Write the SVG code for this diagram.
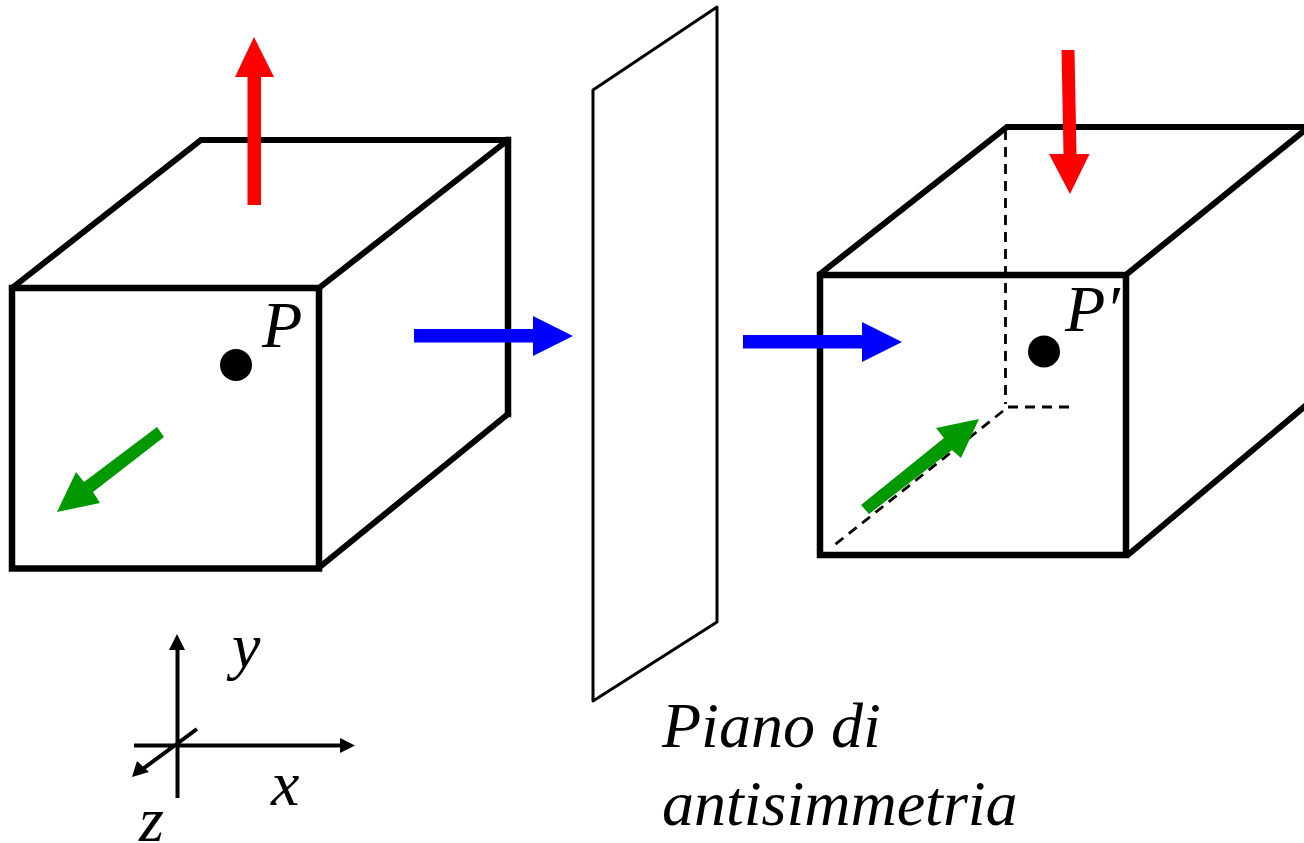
<svg xmlns="http://www.w3.org/2000/svg" width="1304" height="843" viewBox="0 0 1304 843">
<style>
.k{fill:none;stroke:#000;stroke-width:6;stroke-linecap:round;stroke-linejoin:miter}
.f{fill:none;stroke:#000;stroke-width:6.5;stroke-linecap:square}
.p{fill:none;stroke:#000;stroke-width:3;stroke-linejoin:round}
.d{fill:none;stroke:#000;stroke-width:2.8;stroke-dasharray:10 7}
.a{fill:none;stroke:#000;stroke-width:4}
.t{font-family:"Liberation Serif",serif;font-style:italic;fill:#000}
</style>
<rect width="1304" height="843" fill="#fff"/>
<g id="cube-left">
<path class="k" d="M12 288L201 140H508M319 288L508 140M508 414L321 566"/>
<path class="f" d="M12 288H319V568.500H12ZM508 140V414"/>
<circle cx="236" cy="365" r="16"/>
<text class="t" x="262" y="346.500" font-size="66">P</text>
</g>
<g id="plane">
<path class="p" d="M593 90L717 7V622L593 701Z"/>
</g>
<g id="cube-right">
<path class="k" d="M820 274L1007 127H1304M1127 274L1310 126M1129 554L1310 402"/>
<path class="f" d="M820 275H1126V555H820Z"/>
<path class="d" d="M1005.500 130V404M1008 407H1069M1003 411L832 547"/>
<circle cx="1044" cy="351.500" r="16"/>
<text class="t" x="1065" y="331" font-size="66">P′</text>
</g>
<g id="connectors">
<path fill="#f00" d="M247.500 205V77H235L254 37L274 77H261V205Z"/>
<path fill="#f00" d="M1061.500 50H1074.500L1076.500 154H1089.500L1070 194L1049 154H1063.500Z"/>
<path fill="#00f" d="M414 329H533V316L573 336L533 356V342.500H414Z"/>
<path fill="#00f" d="M743 335H862V322L902 342L862 362V348.500H743Z"/>
<path fill="#090" d="M157 427L164 437L93 492L100 503L57 512L76 472L84 482Z"/>
<path fill="#090" d="M861 505L869 514L952 450L961 458L979 419L936 428L944 438Z"/>
<path class="a" d="M177.500 798V646M134 745.500H344M197 729L140 771"/>
<path d="M177 634L185 650H169Z"/>
<path d="M355 745.500L340 738V753Z"/>
<path d="M132 777L149 772L137 761Z"/>
</g>
<g id="labels">
<text class="t" x="232" y="667" font-size="64">y</text>
<text class="t" x="271" y="805" font-size="64">x</text>
<text class="t" x="139" y="841" font-size="64">z</text>
<text class="t" x="662" y="747" font-size="64">Piano di</text>
<text class="t" x="662" y="825" font-size="64">antisimmetria</text>
</g>
</svg>
